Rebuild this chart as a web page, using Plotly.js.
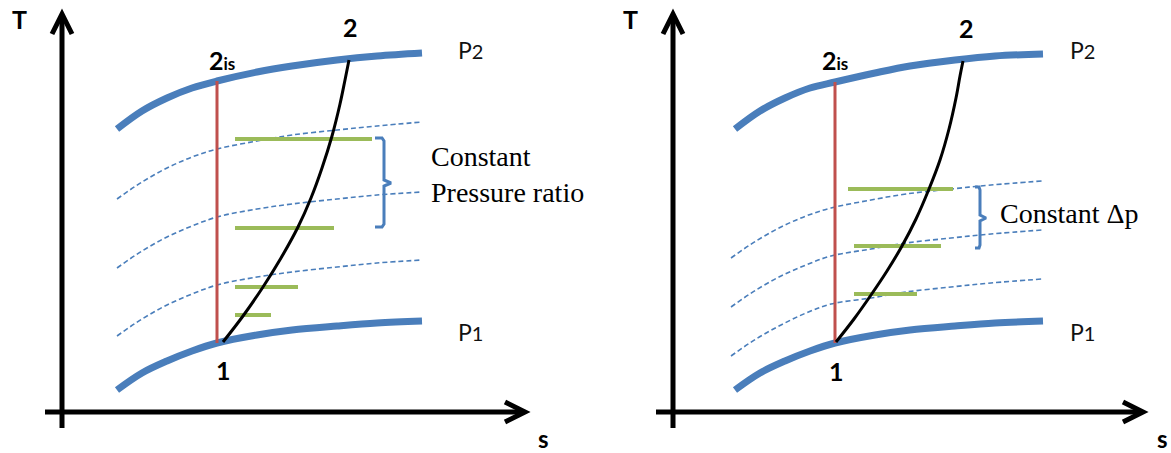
<!DOCTYPE html>
<html>
<head>
<meta charset="utf-8">
<script src="https://cdn.plot.ly/plotly-3.0.1.min.js"></script>
<style>html,body{margin:0;padding:0;background:#fff;}#chart{width:1171px;height:453px;}</style>
</head>
<body>
<div id="chart"></div>
<script>
// ---------- Left panel: constant pressure ratio (s, T schematic units) ----------
const sLeft          = [55, 80, 105, 130, 155, 195, 230, 275, 315, 360];
const P2Left         = [283, 301, 314, 324, 331, 340, 346, 352, 356, 359];
const P1Left         = [22, 39, 51, 61, 69, 77, 82, 86, 89, 91];
const dashLeftTop    = [213, 230, 244, 255, 263, 271, 277, 282, 286, 290];
const dashLeftMid    = [144, 161, 175, 186, 195, 203, 208, 213, 217, 220];
const dashLeftBot    = [76, 93, 107, 118, 127, 135, 140, 145, 149, 152];
const isenLeftS      = [155, 155];
const isenLeftT      = [69, 331];
const realLeftS      = [161, 181, 201, 219, 236, 249, 260, 270, 278, 283, 287];
const realLeftT      = [70, 96, 125, 154, 185, 214, 244, 276, 308, 332, 352];
const stageLeftT     = [273, 184, 125, 97];
const stageLeftS0    = [173, 173, 173, 173];
const stageLeftS1    = [310, 272, 236, 209];
const braceLeftS     = [313, 320, 322, 322, 329, 322, 322, 320, 313];
const braceLeftT     = [274, 274, 271, 232, 229, 226, 188, 185, 185];

// ---------- Right panel: constant delta p ----------
const sRight         = [62, 87, 112, 137, 162, 202, 237, 282, 322, 370];
const P2Right        = [283, 301, 314, 324, 330, 339, 346, 352, 356, 358];
const P1Right        = [22, 39, 51, 61, 69, 77, 82, 86, 89, 91];
const sRightDash     = [58, 83, 108, 133, 158, 198, 233, 278, 318, 369];
const dashRightTop   = [154, 171, 185, 196, 204, 212, 218, 223, 227, 231];
const dashRightMid   = [105, 122, 136, 147, 156, 163, 169, 174, 178, 182];
const dashRightBot   = [56, 73, 87, 99, 108, 114, 120, 125, 129, 133];
const isenRightS     = [162, 162];
const isenRightT     = [69, 330];
const realRightS     = [163, 181, 198, 214, 229, 243, 256, 267, 276, 283, 287, 290];
const realRightT     = [70, 93, 117, 141, 166, 193, 223, 252, 283, 314, 336, 351];
const stageRightT    = [223, 166, 118];
const stageRightS0   = [175, 181, 181];
const stageRightS1   = [280, 268, 244];
const braceRightS    = [302, 306, 307, 307, 313, 307, 307, 306, 302];
const braceRightT    = [225, 225, 222, 197, 194, 191, 167, 164, 164];

// labels
const labelIsen = "2<span style='font-size:17px'>is</span>";
const labelOut = "2";
const labelIn = "1";
const labelP2 = "P<span style='font-size:20px'>2</span>";
const labelP1 = "P<span style='font-size:20px'>1</span>";
const textLeft = "Constant<br>Pressure ratio";
const textRight = "Constant Δp";
const axisT = "T";
const axisS = "s";

const BLUE = '#4A7EBB', RED = '#C0504D', GREEN = '#9BBB59', BLACK = '#000000';

function segs(s0, s1, t) {
  const xs = [], ys = [];
  for (let i = 0; i < t.length; i++) { xs.push(s0[i], s1[i], null); ys.push(t[i], t[i], null); }
  return {xs, ys};
}
function panelTraces(xa, ya, d) {
  const tr = [];
  const dashStyle = {color: BLUE, width: 1.6, dash: '5px,3px', shape: 'spline', smoothing: 1};
  [d.dT, d.dM, d.dB].forEach(arr => tr.push({x: d.sD, y: arr, mode: 'lines', line: dashStyle, xaxis: xa, yaxis: ya}));
  const g = segs(d.g0, d.g1, d.gT);
  tr.push({x: g.xs, y: g.ys, mode: 'lines', line: {color: GREEN, width: 4}, xaxis: xa, yaxis: ya, connectgaps: false});
  tr.push({x: d.sP, y: d.p2, mode: 'lines', line: {color: BLUE, width: 7, shape: 'spline', smoothing: 1}, xaxis: xa, yaxis: ya});
  tr.push({x: d.sP, y: d.p1, mode: 'lines', line: {color: BLUE, width: 7, shape: 'spline', smoothing: 1}, xaxis: xa, yaxis: ya});
  tr.push({x: d.iS, y: d.iT, mode: 'lines', line: {color: RED, width: 3}, xaxis: xa, yaxis: ya});
  tr.push({x: d.rS, y: d.rT, mode: 'lines', line: {color: BLACK, width: 3, shape: 'spline', smoothing: 1}, xaxis: xa, yaxis: ya});
  tr.push({x: d.bS, y: d.bT, mode: 'lines', line: {color: BLUE, width: 3}, xaxis: xa, yaxis: ya});
  return tr;
}

const traces = [].concat(
  panelTraces('x', 'y', {sD: sLeft, dT: dashLeftTop, dM: dashLeftMid, dB: dashLeftBot,
    g0: stageLeftS0, g1: stageLeftS1, gT: stageLeftT, sP: sLeft, p2: P2Left, p1: P1Left,
    iS: isenLeftS, iT: isenLeftT, rS: realLeftS, rT: realLeftT, bS: braceLeftS, bT: braceLeftT}),
  panelTraces('x2', 'y2', {sD: sRightDash, dT: dashRightTop, dM: dashRightMid, dB: dashRightBot,
    g0: stageRightS0, g1: stageRightS1, gT: stageRightT, sP: sRight, p2: P2Right, p1: P1Right,
    iS: isenRightS, iT: isenRightT, rS: realRightS, rT: realRightT, bS: braceRightS, bT: braceRightT})
);

const hid = {showgrid: false, zeroline: false, showticklabels: false, showline: false, ticks: '', fixedrange: true};

function axisShapes(xr, yr, xEnd) {
  const ln = {color: BLACK, width: 5};
  return [
    {type: 'line', xref: xr, yref: yr, x0: 0, y0: -16, x1: 0, y1: 397, line: ln},
    {type: 'path', xref: xr, yref: yr, path: 'M -10,378 L 0,398 L 10,378', line: ln},
    {type: 'line', xref: xr, yref: yr, x0: -17, y0: 0, x1: xEnd - 2, y1: 0, line: ln},
    {type: 'path', xref: xr, yref: yr, path: `M ${xEnd - 20},10 L ${xEnd},0 L ${xEnd - 20},-10`, line: ln}
  ];
}

const bold = {family: 'Lato, "Liberation Sans", sans-serif', size: 25, color: '#000', weight: 700};
const boldS = {family: 'Lato, "Liberation Sans", sans-serif', size: 24, color: '#000', weight: 700};
const reg = {family: 'Lato, "Liberation Sans", sans-serif', size: 23, color: '#111'};
const serif = {family: '"Liberation Serif", "Times New Roman", serif', size: 28, color: '#000'};

function ann(xr, yr, x, y, text, font, xanchor) {
  return {xref: xr, yref: yr, x, y, text, font, showarrow: false, xanchor: xanchor || 'center', yanchor: 'middle', align: 'left'};
}

const annotations = [
  ann('x', 'y', -43, 393, axisT, bold), ann('x', 'y', 481, -26, axisS, boldS),
  ann('x', 'y', 288, 385, labelOut, bold), ann('x', 'y', 160, 352, labelIsen, bold),
  ann('x', 'y', 161, 42, labelIn, bold),
  ann('x', 'y', 394, 362, labelP2, reg, 'left'), ann('x', 'y', 394, 80, labelP1, reg, 'left'),
  ann('x', 'y', 367, 238, textLeft, serif, 'left'),
  ann('x2', 'y2', -43, 393, axisT, bold), ann('x2', 'y2', 489, -26, axisS, boldS),
  ann('x2', 'y2', 293, 384, labelOut, bold), ann('x2', 'y2', 162, 352, labelIsen, bold),
  ann('x2', 'y2', 163, 41, labelIn, bold),
  ann('x2', 'y2', 395, 362, labelP2, reg, 'left'), ann('x2', 'y2', 395, 80, labelP1, reg, 'left'),
  ann('x2', 'y2', 325, 199, textRight, serif, 'left')
];

const layout = {
  width: 1171, height: 453,
  margin: {l: 0, r: 0, t: 0, b: 0, pad: 0},
  paper_bgcolor: '#fff', plot_bgcolor: 'rgba(0,0,0,0)',
  showlegend: false,
  xaxis: Object.assign({domain: [0, 0.5], range: [-62, 523.5]}, hid),
  yaxis: Object.assign({domain: [0, 1], range: [-41, 412]}, hid),
  xaxis2: Object.assign({domain: [0.5, 1], range: [-87.5, 498], anchor: 'y2'}, hid),
  yaxis2: Object.assign({domain: [0, 1], range: [-41, 412], anchor: 'x2'}, hid),
  shapes: axisShapes('x', 'y', 463).concat(axisShapes('x2', 'y2', 470)),
  annotations
};

Plotly.newPlot('chart', traces, layout, {displayModeBar: false, staticPlot: true});
</script>
</body>
</html>
